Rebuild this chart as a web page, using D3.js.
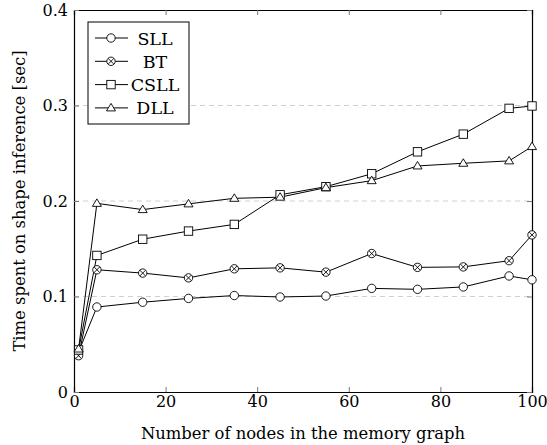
<!DOCTYPE html>
<html>
<head>
<meta charset="utf-8">
<script src="https://cdn.jsdelivr.net/npm/d3@7"></script>
<style>
body { margin: 0; background: #fff; }
text { font-family: "DejaVu Serif", serif; }
</style>
</head>
<body>
<div id="chart"></div>
<script>
const width = 547;
const height = 445;
const margin = {t: 10, b: 53, l: 74, r: 15};

// data
const nodes = [1, 5, 15, 25, 35, 45, 55, 65, 75, 85, 95, 100];
const sll  = [0.042, 0.089, 0.094, 0.098, 0.101, 0.0995, 0.1005, 0.1085, 0.1075, 0.110, 0.1215, 0.1175];
const bt   = [0.038, 0.128, 0.1245, 0.1195, 0.129, 0.130, 0.1255, 0.145, 0.1305, 0.131, 0.1375, 0.1645];
const csll = [0.044, 0.143, 0.160, 0.1685, 0.1755, 0.2065, 0.215, 0.2285, 0.2515, 0.270, 0.297, 0.2995];
const dll  = [0.045, 0.1975, 0.191, 0.197, 0.2028, 0.204, 0.214, 0.2213, 0.2367, 0.2395, 0.242, 0.257];
const seriesNames = ["SLL", "BT", "CSLL", "DLL"];
const xTicks = [0, 20, 40, 60, 80, 100];
const yTicks = [0, 0.1, 0.2, 0.3, 0.4];

const series = [sll, bt, csll, dll].map((vals, i) => ({
    name: seriesNames[i],
    values: vals.map((v, j) => ({x: nodes[j], y: v}))
}));

const svg = d3.select("#chart")
    .append("svg")
    .attr("width", width)
    .attr("height", height);

const xScale = d3.scaleLinear()
    .domain([0, 100])
    .range([margin.l, width - margin.r]);
const yScale = d3.scaleLinear()
    .domain([0, 0.4])
    .range([height - margin.b, margin.t]);

//grid
svg.append("g")
    .selectAll("line")
    .data([0.1, 0.2, 0.3])
    .join("line")
    .attr("x1", margin.l)
    .attr("x2", width - margin.r)
    .attr("y1", d => yScale(d))
    .attr("y2", d => yScale(d))
    .attr("stroke", "#d0d0d0")
    .attr("stroke-width", 1)
    .attr("stroke-dasharray", "5,4");

//axes, ticks inward
const tickFmt = d => d === 0 ? "0" : d3.format("")(d);
svg.append("g")
    .attr("transform", `translate(0, ${height - margin.b})`)
    .call(d3.axisBottom(xScale).tickValues(xTicks).tickSize(-5).tickPadding(4).tickFormat(tickFmt));
svg.append("g")
    .attr("transform", `translate(0, ${margin.t})`)
    .call(d3.axisTop(xScale).tickValues(xTicks).tickSize(-5).tickFormat(""));
svg.append("g")
    .attr("transform", `translate(${margin.l}, 0)`)
    .call(d3.axisLeft(yScale).tickValues(yTicks).tickSize(-5).tickPadding(6).tickFormat(tickFmt));
svg.append("g")
    .attr("transform", `translate(${width - margin.r}, 0)`)
    .call(d3.axisRight(yScale).tickValues(yTicks).tickSize(-5).tickFormat(""));

svg.selectAll(".domain").attr("stroke", "#000").attr("stroke-width", 1.2);
svg.selectAll(".tick line").attr("stroke", "#777");
svg.selectAll(".tick text").attr("font-size", 16).attr("fill", "#000")
    .style("font-family", "'DejaVu Serif', serif");

//axis labels
svg.append("text")
    .attr("x", (margin.l + width - margin.r) / 2)
    .attr("y", 439)
    .attr("text-anchor", "middle")
    .attr("font-size", 16.4)
    .text("Number of nodes in the memory graph");
svg.append("text")
    .attr("transform", "rotate(-90)")
    .attr("x", -(margin.t + height - margin.b) / 2)
    .attr("y", 25)
    .attr("text-anchor", "middle")
    .attr("font-size", 16.4)
    .text("Time spent on shape inference [sec]");

//markers
function drawMarker(g, name) {
    if (name === "SLL") {
        g.append("circle").attr("r", 4.2).attr("fill", "#fff").attr("stroke", "#000");
    } else if (name === "BT") {
        g.append("circle").attr("r", 4.2).attr("fill", "#fff").attr("stroke", "#000");
        g.append("path").attr("d", "M-2.8,-2.8L2.8,2.8M-2.8,2.8L2.8,-2.8").attr("stroke", "#000");
    } else if (name === "CSLL") {
        g.append("rect").attr("x", -4.2).attr("y", -4.2).attr("width", 8.4).attr("height", 8.4)
            .attr("fill", "#fff").attr("stroke", "#000");
    } else {
        g.append("path").attr("d", "M0,-4.5L4.5,3L-4.5,3Z").attr("fill", "#fff").attr("stroke", "#000");
    }
}

const makeLine = d3.line()
    .x(d => xScale(d.x))
    .y(d => yScale(d.y));

series.forEach(s => {
    svg.append("path")
        .attr("fill", "none")
        .attr("stroke", "#000")
        .attr("stroke-width", 1)
        .attr("d", makeLine(s.values));
});
series.forEach(s => {
    s.values.forEach(d => {
        const g = svg.append("g")
            .attr("transform", `translate(${xScale(d.x)}, ${yScale(d.y)})`)
            .attr("stroke-width", 0.9);
        drawMarker(g, s.name);
    });
});

//legend
const legend = svg.append("g").attr("transform", "translate(88, 22)");
legend.append("rect")
    .attr("width", 101)
    .attr("height", 102)
    .attr("fill", "#fff")
    .attr("stroke", "#000")
    .attr("stroke-width", 1);
seriesNames.forEach((name, i) => {
    const y = 16 + i * 23.3;
    legend.append("line")
        .attr("x1", 7).attr("x2", 40)
        .attr("y1", y).attr("y2", y)
        .attr("stroke", "#000");
    const g = legend.append("g")
        .attr("transform", `translate(23, ${y})`)
        .attr("stroke-width", 0.9);
    drawMarker(g, name);
    legend.append("text")
        .attr("x", 67)
        .attr("y", y + 6.5)
        .attr("text-anchor", "middle")
        .attr("font-size", 17.5)
        .text(name);
});
</script>
</body>
</html>
